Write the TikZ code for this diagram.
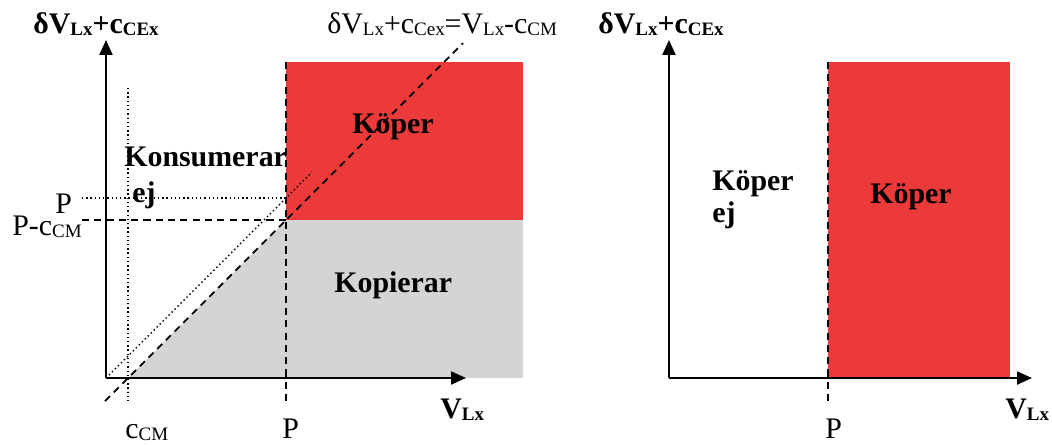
\documentclass[tikz,border=0pt]{standalone}
\usepackage{fontspec}
\setmainfont{Liberation Serif}
\usetikzlibrary{arrows.meta,positioning}
\definecolor{buyred}{RGB}{236,58,58}
\definecolor{copygray}{RGB}{212,212,212}
\newcommand{\lowtxt}[1]{\raisebox{-1.3pt}{\fontsize{10.8}{11}\selectfont #1}}
\tikzset{
    axis/.style={
        -{Triangle[length=8.5pt,width=7.4pt]},
        line width=1.1pt
    },
    guidedash/.style={
        dash pattern=on 4pt off 3pt,
        line width=1pt
    },
    guidedot/.style={
        dash pattern=on 0.8pt off 1.6pt,
        line width=0.8pt
    },
    txt/.style={
        font=\fontsize{17}{20}\selectfont,
        inner sep=0pt,
        anchor=base west
    },
    boldtxt/.style={
        txt,
        font=\fontsize{17}{20}\selectfont\bfseries
    }
}
\begin{document}
\begin{tikzpicture}[x=0.02cm,y=-0.02cm]

    \useasboundingbox (0,0) rectangle (1052,444);

    % Punkter, vänster diagram
    \coordinate (O1) at (106,378);
    \coordinate (Y1) at (106,40);
    \coordinate (X1) at (466,378);
    \coordinate (cmTop) at (128,88);
    \coordinate (cmBot) at (128,402);
    \coordinate (pTop) at (286,62);
    \coordinate (pBot) at (286,402);
    \coordinate (pHi) at (286,198);
    \coordinate (pLo) at (286,220);
    \coordinate (pHiL) at (82,198);
    \coordinate (pLoL) at (82,220);
    \coordinate (dStart) at (105,401);
    \coordinate (dEnd) at (463,43);
    \coordinate (dotEnd) at (312,172);

    % Ytor
    \fill[buyred] (286,62) rectangle (523,220);
    \fill[copygray] (128,378) -- (pLo) -- (523,220) -- (523,378) -- cycle;

    % Hjälplinjer
    \draw[guidedot] (cmTop) -- (cmBot);
    \draw[guidedash] (pTop) -- (pBot);
    \draw[guidedash] (dStart) -- (dEnd);
    \draw[guidedot] (O1) -- (dotEnd);
    \draw[guidedot] (pHiL) -- (pHi);
    \draw[guidedash] (pLoL) -- (pLo);

    % Axlar
    \draw[axis] (O1) -- (Y1);
    \draw[axis] (O1) -- (X1);

    % Texter, vänster diagram
    \node[boldtxt] (ylab1) at (33,33)
        {δV\lowtxt{Lx}+c\lowtxt{CEx}};
    \node[txt] (eqlab) at (327,33)
        {δV\lowtxt{Lx}+c\lowtxt{Cex}=V\lowtxt{Lx}-c\lowtxt{CM}};
    \node[txt] (plab1) at (55,213) {P};
    \node[txt] (pclab) at (12,235) {P-c\lowtxt{CM}};
    \node[txt] (cmlab) at (125,438) {c\lowtxt{CM}};
    \node[txt] (pxlab1) at (282,438) {P};
    \node[boldtxt] (xlab1) at (440,418) {V\lowtxt{Lx}};
    \node[boldtxt] (kons) at (124,166) {Konsumerar};
    \node[boldtxt] (konsej) at (132,202) {ej};
    \node[boldtxt] (koper1) at (352,133) {Köper};
    \node[boldtxt] (kopi) at (334,292) {Kopierar};

    % Punkter, höger diagram
    \coordinate (O2) at (669,378);
    \coordinate (Y2) at (669,40);
    \coordinate (X2) at (1032,378);
    \coordinate (qTop) at (828,62);
    \coordinate (qBot) at (828,402);

    % Yta
    \fill[buyred] (qTop) rectangle (1010,378);

    % Hjälplinje
    \draw[guidedash] (qTop) -- (qBot);

    % Axlar
    \draw[axis] (O2) -- (Y2);
    \draw[axis] (O2) -- (X2);

    % Texter, höger diagram
    \node[boldtxt] (ylab2) at (598,33)
        {δV\lowtxt{Lx}+c\lowtxt{CEx}};
    \node[boldtxt] (koper2) at (712,190) {Köper};
    \node[boldtxt] (koperej) at (712,222) {ej};
    \node[boldtxt] (koper3) at (870,203) {Köper};
    \node[txt] (pxlab2) at (825,438) {P};
    \node[boldtxt] (xlab2) at (1005,418) {V\lowtxt{Lx}};

\end{tikzpicture}
\end{document}
